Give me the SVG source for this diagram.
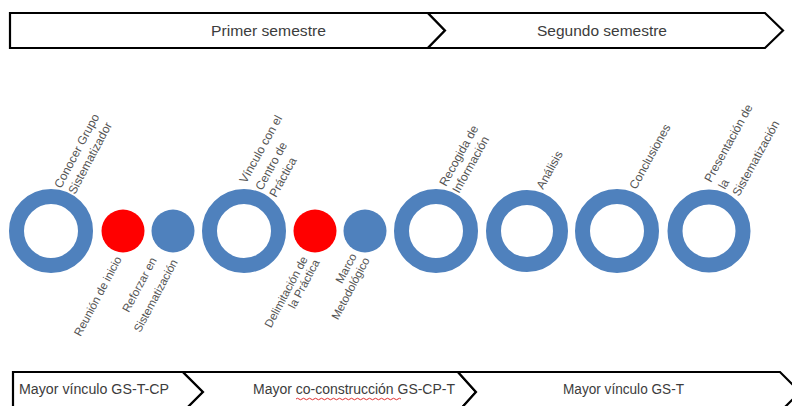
<svg xmlns="http://www.w3.org/2000/svg" width="792" height="406" viewBox="0 0 792 406">
<style>
.bar{fill:#fff;stroke:#000;stroke-width:2.2;stroke-linejoin:miter}
.bt{font-family:"Liberation Sans",Arial,sans-serif;font-size:14px;fill:#3c3c3c}
.lb{font-family:"Liberation Sans",Arial,sans-serif;font-size:12px;fill:#555}
.lbe{font-family:"Liberation Sans",Arial,sans-serif;font-size:11.5px;fill:#555;text-anchor:end}
.ring{fill:none;stroke:#4F81BD;stroke-width:15}
.red{fill:#FF0000}
.blue{fill:#4F81BD}
</style>
<rect width="792" height="406" fill="#fff"/>
<g id="top-bar">
<path class="bar" d="M10,13 L428,13 L445,30.5 L428,48 L10,48 Z"/>
<path class="bar" d="M428,13 L765,13 L783,30.5 L765,48 L428,48 L445,30.5 Z"/>
<text class="bt" x="211" y="36" font-size="15" textLength="115" lengthAdjust="spacingAndGlyphs">Primer semestre</text>
<text class="bt" x="537" y="36" font-size="15" textLength="130" lengthAdjust="spacingAndGlyphs">Segundo semestre</text>
</g>
<g id="bottom-bar">
<path class="bar" d="M13,372 L183,372 L203,392 L183,412 L13,412 Z"/>
<path class="bar" d="M183,372 L458,372 L476,392 L458,412 L183,412 L203,392 Z"/>
<path class="bar" d="M458,372 L780,372 L800,392 L780,412 L458,412 L476,392 Z"/>
<text class="bt" x="19" y="394" textLength="150" lengthAdjust="spacingAndGlyphs">Mayor vínculo GS-T-CP</text>
<text class="bt" x="253" y="394" textLength="202" lengthAdjust="spacingAndGlyphs">Mayor co-construcción GS-CP-T</text>
<path d="M296,399 q1.5,-1.5 3,0 t3,0 t3,0 t3,0 t3,0 t3,0 t3,0 t3,0 t3,0 t3,0 t3,0 t3,0 t3,0 t3,0 t3,0 t3,0 t3,0 t3,0 t3,0 t3,0 t3,0 t3,0 t3,0 t3,0 t3,0 t3,0 t3,0 t3,0 t3,0 t3,0 t3,0 t3,0 t3,0 t3,0 t3,0" fill="none" stroke="#e03030" stroke-width="1"/>
<text class="bt" x="563" y="394" textLength="121" lengthAdjust="spacingAndGlyphs">Mayor vínculo GS-T</text>
</g>
<g id="node-conocer">
<circle class="ring" cx="51" cy="231" r="34.5"/>
<text class="lb" transform="translate(61,189) rotate(-62)">Conocer Grupo</text>
<text class="lb" transform="translate(75,195) rotate(-62)">Sistematizador</text>
</g>
<g id="node-reunion">
<circle class="red" cx="123" cy="231" r="21.5"/>
<text class="lbe" transform="translate(122,259) rotate(-62)">Reunión de inicio</text>
</g>
<g id="node-reforzar">
<circle class="blue" cx="173" cy="231" r="21.5"/>
<text class="lbe" transform="translate(157,260) rotate(-62)">Reforzar en</text>
<text class="lbe" transform="translate(178,262) rotate(-62)">Sistematización</text>
</g>
<g id="node-vinculo">
<circle class="ring" cx="244" cy="231" r="34.5"/>
<text class="lb" transform="translate(246,184) rotate(-61)">Vínculo con el</text>
<text class="lb" transform="translate(262,191) rotate(-61)">Centro de</text>
<text class="lb" transform="translate(276,198) rotate(-61)">Práctica</text>
</g>
<g id="node-delimitacion">
<circle class="red" cx="315" cy="231" r="21.5"/>
<text class="lbe" transform="translate(308,259) rotate(-62)">Delimitación de</text>
<text class="lbe" transform="translate(320,262) rotate(-62)">la Práctica</text>
</g>
<g id="node-marco">
<circle class="blue" cx="365" cy="231" r="21.5"/>
<text class="lbe" transform="translate(357,256) rotate(-62)">Marco</text>
<text class="lbe" transform="translate(370,260) rotate(-62)">Metodológico</text>
</g>
<g id="node-recogida">
<circle class="ring" cx="436" cy="231" r="34.5"/>
<text class="lb" transform="translate(446,187) rotate(-61)">Recogida de</text>
<text class="lb" transform="translate(459,194) rotate(-61)">Información</text>
</g>
<g id="node-analisis">
<circle class="ring" cx="527" cy="231" r="33.5" stroke-width="14"/>
<text class="lb" transform="translate(543,190) rotate(-61)">Análisis</text>
</g>
<g id="node-conclusiones">
<circle class="ring" cx="617" cy="231" r="34.5"/>
<text class="lb" transform="translate(636,190) rotate(-61)">Conclusiones</text>
</g>
<g id="node-presentacion">
<circle class="ring" cx="709" cy="231" r="34"/>
<text class="lb" transform="translate(711,183) rotate(-61)">Presentación de</text>
<text class="lb" transform="translate(725,190) rotate(-61)">la</text>
<text class="lb" transform="translate(739,197) rotate(-61)">Sistematización</text>
</g>
</svg>
